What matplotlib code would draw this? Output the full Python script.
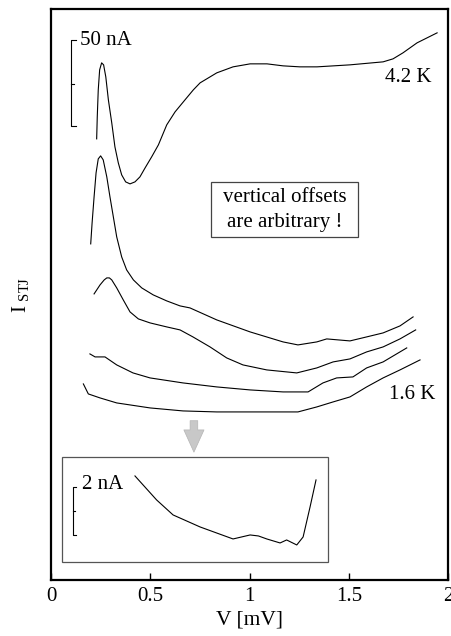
import matplotlib
matplotlib.use('Agg')
import matplotlib.pyplot as plt
from matplotlib.patches import Rectangle

plt.rcParams['font.family'] = ['Liberation Serif', 'DejaVu Serif']
plt.rcParams['mathtext.fontset'] = 'custom'
plt.rcParams['mathtext.rm'] = 'Liberation Serif'

# curves, current in arbitrary offset units (85 units = 50 nA)
v_42 = [0.230, 0.233, 0.238, 0.245, 0.255, 0.265, 0.276, 0.289, 0.306, 0.322, 0.339,
        0.356, 0.376, 0.398, 0.423, 0.448, 0.474, 0.507, 0.541, 0.583, 0.625, 0.675,
        0.717, 0.751, 0.835, 0.917, 1.003, 1.088, 1.169, 1.254, 1.340, 1.506, 1.673,
        1.723, 1.773, 1.844, 1.945]
i_42 = [441, 463, 490, 510, 517, 515, 503, 480, 457, 433, 417,
        405, 398, 396, 398, 403, 412, 423, 435, 455, 468, 480,
        490, 497, 507, 513, 516, 516, 514, 513, 513, 515, 518,
        521, 527, 537, 547]

v_b = [0.200, 0.207, 0.217, 0.227, 0.238, 0.250, 0.263, 0.281, 0.297, 0.314, 0.331,
       0.356, 0.381, 0.415, 0.457, 0.515, 0.583, 0.650, 0.700, 0.835, 1.003, 1.169,
       1.244, 1.339, 1.389, 1.506, 1.590, 1.673, 1.758, 1.824]
i_b = [336, 357, 383, 407, 421, 424, 420, 403, 383, 363, 343,
       323, 310, 300, 292, 285, 279, 274, 272, 260, 248, 238,
       235, 238, 241, 239, 243, 247, 254, 263]

v_c = [0.217, 0.247, 0.268, 0.281, 0.294, 0.306, 0.331, 0.364, 0.398, 0.440, 0.499,
       0.583, 0.650, 0.715, 0.801, 0.885, 0.967, 1.087, 1.238, 1.339, 1.421, 1.506,
       1.590, 1.673, 1.758, 1.837]
i_c = [286, 295, 300, 302, 302, 300, 292, 280, 268, 261, 257,
       253, 250, 243, 233, 222, 215, 210, 207, 212, 218, 221,
       228, 233, 241, 250]

v_d = [0.196, 0.222, 0.272, 0.331, 0.413, 0.499, 0.665, 0.835, 1.003, 1.169, 1.295,
       1.370, 1.439, 1.521, 1.590, 1.673, 1.792]
i_d = [226, 223, 223, 215, 207, 202, 197, 193, 190, 188, 188,
       197, 202, 203, 212, 218, 232]

v_16 = [0.163, 0.188, 0.247, 0.331, 0.499, 0.665, 0.835, 1.003, 1.244, 1.339, 1.421,
        1.506, 1.590, 1.673, 1.758, 1.859]
i_16 = [196, 186, 182, 177, 172, 169, 168, 168, 168, 173, 178,
        183, 193, 202, 210, 220]

# inset (magnified 1.6 K curve, 24 units = 2 nA)
v_in = [0.423, 0.532, 0.615, 0.751, 0.917, 0.960, 1.003, 1.045, 1.087, 1.154, 1.187,
        1.238, 1.270, 1.305, 1.335]
i_in = [104, 80, 65, 53, 41, 43, 45, 44, 41, 37, 40,
        35, 43, 73, 100]

xticks = [0, 0.5, 1, 1.5, 2]
xticklabels = ['0', '0.5', '1', '1.5', '2']

fig = plt.figure(figsize=(4.51, 6.36), dpi=100)
ax = fig.add_axes([0.1131, 0.0881, 0.8803, 0.898])

for v, i in [(v_42, i_42), (v_b, i_b), (v_c, i_c), (v_d, i_d), (v_16, i_16), (v_in, i_in)]:
    ax.plot(v, i, color='black', lw=0.8)

ax.set_xlim(0, 2)
ax.set_ylim(0, 571)
ax.set_xticks(xticks)
ax.set_xticklabels(xticklabels)
ax.set_yticks([])
ax.tick_params(axis='x', direction='in', length=5, width=1, labelsize=15, pad=5)
for s in ax.spines.values():
    s.set_linewidth(1.6)
ax.set_xlabel('V [mV]', fontsize=15.5, labelpad=3)
ax.set_ylabel(r'I$_{\ \mathregular{STJ}}$', fontsize=15, labelpad=14)

# 50 nA scale bar
ax.plot([0.125, 0.099, 0.099, 0.125], [540, 540, 454, 454], color='black', lw=0.8)
ax.plot([0.099, 0.114], [496, 496], color='black', lw=0.8)
ax.text(0.146, 539, '50 nA', fontsize=15, va='center', ha='left')

ax.text(1.80, 502, '4.2 K', fontsize=15, va='center', ha='center')
ax.text(1.82, 185, '1.6 K', fontsize=15, va='center', ha='center')

ax.add_patch(Rectangle((0.806, 343), 0.741, 55, fill=False, edgecolor='#444444', lw=0.9))
ax.text(1.176, 370, 'vertical offsets\nare arbitrary !', fontsize=15,
        va='center', ha='center', linespacing=1.4)

# gray arrow pointing to the inset
ax.annotate('', xy=(0.72, 125), xytext=(0.72, 162),
            arrowprops=dict(arrowstyle='simple,head_length=1.6,head_width=1.45,tail_width=0.55',
                            mutation_scale=10, facecolor='#c8c8c8', edgecolor='#b4b4b4', lw=0.5))

# inset box with 2 nA scale bar
ax.add_patch(Rectangle((0.057, 18), 1.339, 105, fill=False, edgecolor='#555555', lw=0.9))
ax.plot([0.125, 0.109, 0.109, 0.125], [93, 93, 45, 45], color='black', lw=0.8)
ax.plot([0.109, 0.119], [69, 69], color='black', lw=0.8)
ax.text(0.156, 95, '2 nA', fontsize=15, va='center', ha='left')

fig.savefig('out.png', dpi=100)
